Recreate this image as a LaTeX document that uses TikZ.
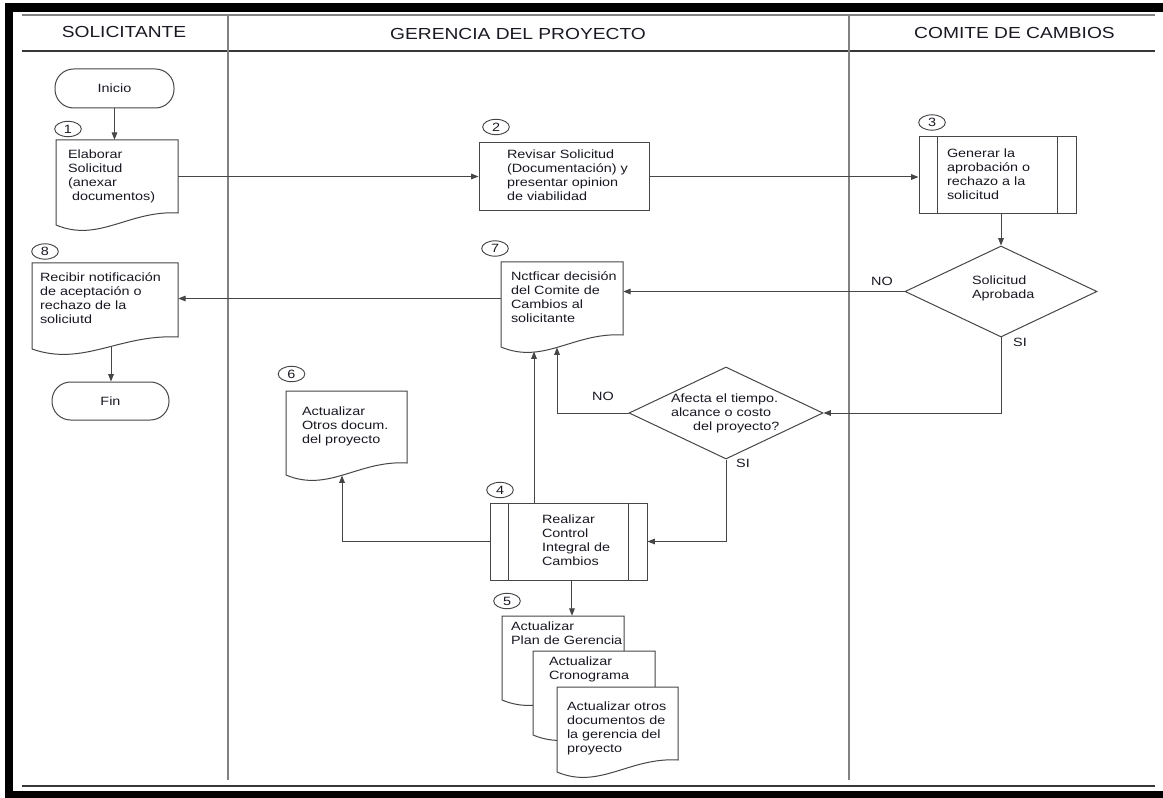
\documentclass[tikz,border=0pt]{standalone}
\usepackage{fontspec}
\setmainfont{Liberation Sans}[FakeStretch=1.2]
\usetikzlibrary{shapes.geometric,arrows.meta,calc}
\definecolor{ink}{RGB}{25,25,35}
\definecolor{ln}{RGB}{70,70,70}
\definecolor{lanec}{RGB}{130,130,130}
\newcommand\txtl[2]{\makebox[#1][l]{\begin{tabular}{@{}l@{}}#2\end{tabular}}}
% #1 name, #2 cx, #3 cy, #4 w, #5 h, #6 ext, #7 text box width (px), #8 text
\newcommand\docnode[8]{%
  \pgfmathsetmacro\dnL{#2-#4/2}\pgfmathsetmacro\dnR{#2+#4/2}%
  \pgfmathsetmacro\dnT{#3-#5/2}\pgfmathsetmacro\dnB{#3+#5/2+#6}%
  \pgfmathsetmacro\dnW{#4}%
  \draw[docline] (\dnL,\dnT) -- (\dnR,\dnT) -- (\dnR,\dnB)
     .. controls (\dnL+0.6*\dnW,\dnB-3) and (\dnL+0.35*\dnW,\dnB+30) .. (\dnL,\dnB+12) -- cycle;
  \pgfmathsetmacro\dnw{#4*0.75}\pgfmathsetmacro\dnh{#5*0.75}\pgfmathsetmacro\dntw{#7*0.75}%
  \node[base, inner sep=0pt, minimum width=\dnw pt, minimum height=\dnh pt] (#1) at (#2,#3) {\txtl{\dntw pt}{#8}};
}
\begin{document}
\begin{tikzpicture}[x=0.75pt,y=-0.75pt,
  base/.style={font=\fontsize{9}{10.5}\selectfont, text=ink},
  head/.style={font=\fontsize{12}{14}\selectfont, text=ink, inner sep=0pt},
  boxn/.style={base, draw=ln, line width=0.75pt, fill=white, inner sep=0pt},
  term/.style={boxn, rounded corners=14pt},
  num/.style={base, ellipse, draw=ln, line width=0.7pt, inner sep=0pt, minimum width=20pt, minimum height=11.5pt},
  dia/.style={base, diamond, draw=ln, line width=0.75pt, aspect=2, inner sep=0pt},
  arr/.style={draw=ln, line width=0.75pt, -{Triangle[length=5.5pt,width=4.2pt]}},
  docline/.style={draw=ln, line width=0.75pt, fill=white},
  lbl/.style={base, inner sep=0pt},
  sepline/.style={draw=ln, line width=0.75pt},
  lane/.style={draw=lanec, line width=1.3pt},
  rule/.style={draw={rgb,255:red,55;green,55;blue,55}, line width=1pt}]
\useasboundingbox (0,0) rectangle (1163,798);
\fill[white] (0,0) rectangle (1163,798);
% frame
\fill[black] (5,3) rectangle (1163,12);
\fill[black] (5,3) rectangle (13,798);
\fill[black] (5,791) rectangle (1163,798);
% table
\draw[lane] (22,15) -- (1155,15);
\draw[rule] (22,51) -- (1155,51);
\draw[rule] (22,786) -- (1155,786);
\draw[lane] (228,15) -- (228,780);
\draw[lane] (849,15) -- (849,780);
\node[head] (hs) at (124,32) {SOLICITANTE};
\node[head] (hg) at (518,34) {GERENCIA DEL PROYECTO};
\node[head] (hc) at (1014.5,33) {COMITE DE CAMBIOS};

% terminals
\node[term, minimum width=89.25pt, minimum height=29.25pt] (ini) at (114.5,88.5) {Inicio};
\node[term, minimum width=87.75pt, minimum height=28.5pt] (fin) at (110.5,401) {Fin};

% documents
\docnode{d1}{117}{176.5}{122}{73}{0}{98}{Elaborar\\Solicitud\\(anexar\\\hspace*{3pt}documentos)}
\docnode{d8}{105}{300}{146}{74}{0}{130}{Recibir notificación\\de aceptación o\\rechazo de la\\soliciutd}
\docnode{d7}{562}{298.5}{122}{73}{0}{102}{Nctficar decisión\\del Comite de\\Cambios al\\solicitante}
\docnode{d6}{346.5}{427}{121}{72}{0}{89}{Actualizar\\Otros docum.\\del proyecto}
\docnode{d5a}{563}{634.5}{122}{37}{35}{104}{Actualizar\\Plan de Gerencia}
\docnode{d5b}{594}{670}{122}{38}{34}{90}{Actualizar\\Cronograma}
\docnode{d5c}{617.5}{729}{121}{84}{-11}{101}{Actualizar otros\\documentos de\\la gerencia del\\proyecto}

% process boxes
\node[boxn, minimum width=127.5pt, minimum height=51pt] (n2) at (564,177) {\txtl{85.5pt}{Revisar Solicitud\\(Documentación) y\\presentar opinion\\de viabilidad}};
\node[boxn, minimum width=117.75pt, minimum height=57.75pt] (n3) at (997.5,175.5) {\txtl{75.75pt}{Generar la\\aprobación o\\rechazo a la\\solicitud}};
\draw[sepline] ([xshift=14.25pt]n3.north west) -- ([xshift=14.25pt]n3.south west);
\draw[sepline] ([xshift=-14.25pt]n3.north east) -- ([xshift=-14.25pt]n3.south east);
\node[boxn, minimum width=117.75pt, minimum height=57.75pt] (n4) at (568.5,541.5) {\txtl{39.75pt}{Realizar\\Control\\Integral de\\Cambios}};
\draw[sepline] ([xshift=14.25pt]n4.north west) -- ([xshift=14.25pt]n4.south west);
\draw[sepline] ([xshift=-14.25pt]n4.north east) -- ([xshift=-14.25pt]n4.south east);

% decisions
\node[dia, minimum width=144pt, minimum height=68.25pt] (dia1) at (1001,291.5) {\smash{\txtl{43.5pt}{Solicitud\\Aprobada}}};
\node[dia, minimum width=145.5pt, minimum height=69pt] (dia2) at (726,413) {\smash{\raisebox{-3pt}{\txtl{82.5pt}{Afecta el tiempo.\\alcance o costo\\\hspace*{16.5pt}del proyecto?}}}};

% step numbers
\node[num] (c1) at (68,129) {1};
\node[num] (c2) at (496,127) {2};
\node[num] (c3) at (932,122.5) {3};
\node[num] (c4) at (500,490) {4};
\node[num] (c5) at (507,601) {5};
\node[num] (c6) at (291.5,374) {6};
\node[num] (c7) at (495,248.5) {7};
\node[num] (c8) at (45,251.5) {8};

% connector end points on wavy edges
\coordinate (d7a) at (534,351.5);
\coordinate (d7b) at (557,347.5);
\coordinate (d8b) at (111,347);
\coordinate (d6b) at (342,475.5);

% connectors
\draw[arr] (ini.south) -- (ini.south |- d1.north);
\draw[arr] (d1.east) -- (d1.east -| n2.west);
\draw[arr] (n2.east) -- (n2.east -| n3.west);
\draw[arr] (n3.south -| dia1.north) -- (dia1.north);
\draw[arr] (dia1.west) -- (dia1.west -| d7.east);
\draw[arr] (dia1.south) |- (dia2.east);
\draw[arr] (dia2.west) -| (d7b);
\draw[arr] (n4.north -| d7a) -- (d7a);
\draw[arr] (d7.west) -- (d7.west -| d8.east);
\draw[arr] (d8b) -- (d8b |- fin.north);
\draw[arr] (dia2.south) |- (n4.east);
\draw[arr] (n4.west) -| (d6b);
\draw[arr] ([xshift=2.6pt]n4.south) -- ([xshift=2.6pt]n4.south |- d5a.north);

% branch labels
\node[lbl] (no1) at (882,281) {NO};
\node[lbl] (si1) at (1020,342) {SI};
\node[lbl] (no2) at (603,396) {NO};
\node[lbl] (si2) at (743,463) {SI};
\end{tikzpicture}
\end{document}
